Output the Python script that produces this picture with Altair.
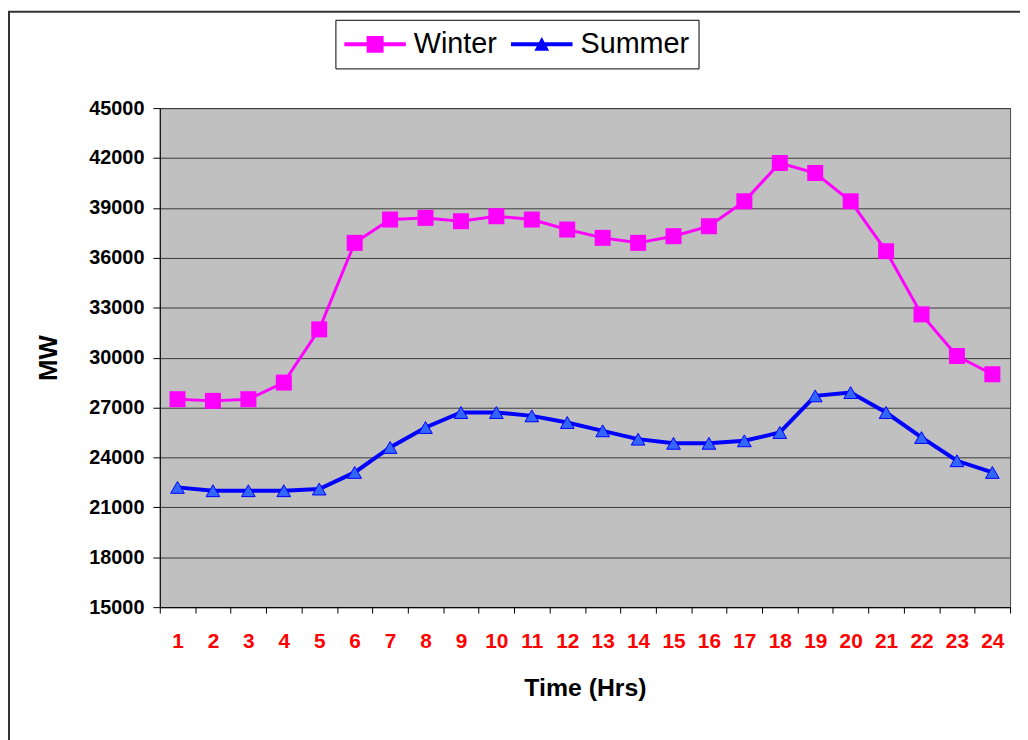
import altair as alt
import pandas as pd

hours = list(range(1, 25))
winter = [27500, 27400, 27500, 28500, 31700, 36900, 38300, 38400, 38200, 38500, 38300, 37700,
          37200, 36900, 37300, 37900, 39400, 41700, 41100, 39400, 36400, 32600, 30100, 29000]
summer = [22200, 22000, 22000, 22000, 22100, 23100, 24600, 25800, 26700, 26700, 26500, 26100,
          25600, 25100, 24850, 24850, 25000, 25500, 27700, 27900, 26700, 25200, 23800, 23100]
series_names = ["Winter", "Summer"]
line_colors = ["#FF00FF", "#0000FF"]
y_ticks = list(range(15000, 45001, 3000))

df = pd.DataFrame({
    "hour": hours * 2,
    "mw": winter + summer,
    "series": ["Winter"] * 24 + ["Summer"] * 24,
})

FONT = "Liberation Sans"

x_enc = alt.X(
    "hour:O",
    sort=hours,
    scale=alt.Scale(type="band", paddingInner=0, paddingOuter=0),
    axis=alt.Axis(
        tickBand="extent",
        labelAngle=0,
        grid=False,
        tickSize=6,
        tickColor="#000000",
        domainColor="#000000",
        labelColor="#FF0000",
        labelFont=FONT,
        labelFontSize=21,
        labelFontWeight="bold",
        labelPadding=18,
        title="Time (Hrs)",
        titleFont=FONT,
        titleFontSize=25,
        titleFontWeight="bold",
        titleColor="#000000",
        titlePadding=24,
    ),
)
y_enc = alt.Y(
    "mw:Q",
    scale=alt.Scale(domain=[15000, 45000], nice=False, zero=False),
    axis=alt.Axis(
        values=y_ticks,
        format="d",
        grid=True,
        gridColor="#3a3a3a",
        gridWidth=1,
        tickSize=7,
        tickColor="#000000",
        domainColor="#000000",
        labelColor="#000000",
        labelFont=FONT,
        labelFontSize=20,
        labelFontWeight="bold",
        labelPadding=9,
        title="MW",
        titleFont=FONT,
        titleFontSize=26,
        titleFontWeight="bold",
        titleColor="#000000",
        titlePadding=28,
    ),
)

base = alt.Chart(df)

win_line = base.transform_filter("datum.series === 'Winter'").mark_line(
    color="#FF00FF", strokeWidth=3
).encode(x=x_enc, y=y_enc)

sum_line = base.transform_filter("datum.series === 'Summer'").mark_line(
    color="#0000FF", strokeWidth=4
).encode(x=x_enc, y=y_enc)

win_pts = base.transform_filter("datum.series === 'Winter'").mark_point(
    shape="square", filled=True, size=260, color="#FF00FF", opacity=1
).encode(x=x_enc, y=y_enc)

sum_pts = base.transform_filter("datum.series === 'Summer'").mark_point(
    shape="triangle-up", filled=True, size=190, fill="#3366FF", stroke="#0000FF", strokeWidth=1, opacity=1
).encode(x=x_enc, y=y_enc)

# legend symbols: a line segment with the marker, drawn 62px wide on a 31px symbol unit
winter_sym = "M-1,-0.13H3V0.13H-1Z M0.45,-0.55H1.55V0.55H0.45Z"
summer_sym = "M-1,-0.13H3V0.13H-1Z M1,-0.48L1.48,0.42H0.52Z"

legend_layer = base.transform_filter("false").mark_point(filled=True, opacity=1).encode(
    x=x_enc,
    y=y_enc,
    color=alt.Color("series:N", scale=alt.Scale(domain=series_names, range=line_colors),
                    legend=alt.Legend(title=None, orient="none", legendX=177, legendY=-89,
                                      direction="horizontal")),
    shape=alt.Shape("series:N", scale=alt.Scale(domain=series_names, range=[winter_sym, summer_sym])),
)

frame = alt.Chart(alt.Data(values=[{"f": 1}])).mark_rect(
    fill=None, fillOpacity=0, stroke="#333333", strokeWidth=2
).encode(
    x=alt.value(-152), x2=alt.value(900), y=alt.value(-97), y2=alt.value(700)
)

chart = alt.layer(frame, win_line, sum_line, win_pts, sum_pts, legend_layer).properties(
    width=857,
    height=503,
    padding={"left": 153, "top": 98, "right": 10, "bottom": 131},
    autosize=alt.AutoSizeParams(type="none"),
    background="#FFFFFF",
).configure_view(
    fill="#C0C0C0", stroke="#4a4a4a", strokeWidth=1
).configure_legend(
    fillColor="#FFFFFF",
    strokeColor="#000000",
    padding=9,
    symbolSize=961,
    symbolStrokeWidth=0,
    labelFont=FONT,
    labelFontSize=29,
    labelColor="#000000",
    labelOffset=39,
    columnPadding=14,
    labelLimit=300,
)

chart.save("out.html", embed_options={"renderer": "svg", "actions": False})
